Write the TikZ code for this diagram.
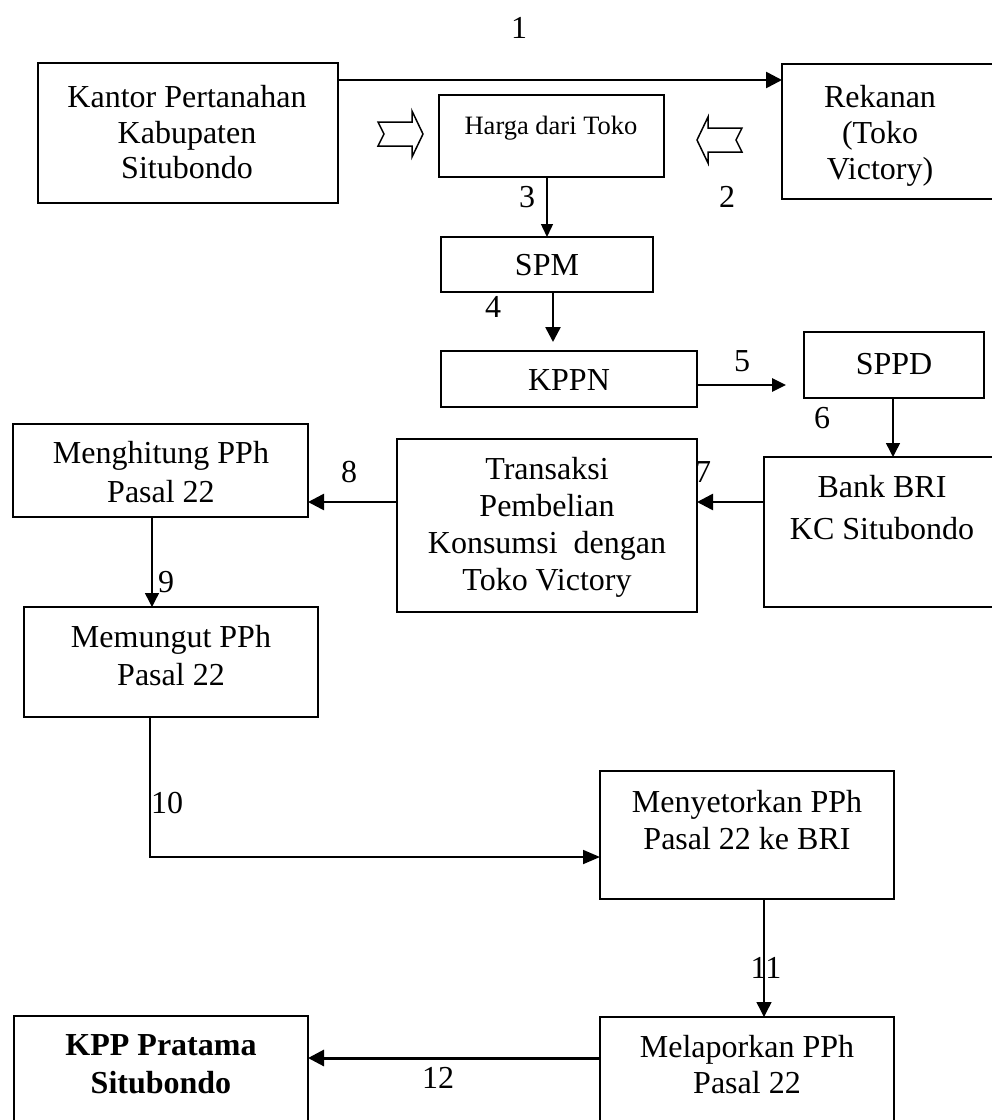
\documentclass[tikz,border=0pt]{standalone}
\usepackage{fontspec}
\setmainfont{Liberation Serif}
\usetikzlibrary{arrows.meta}
\begin{document}
\begin{tikzpicture}[x=1pt,y=-1pt,
  box/.style={draw,line width=1.6pt,inner sep=0pt,outer sep=0pt,anchor=north west},
  txt/.style={font=\fontsize{32}{37}\selectfont,align=center,inner sep=0pt},
  lbl/.style={font=\fontsize{32}{37}\selectfont,inner sep=0pt},
  thinarrow/.style={line width=1.4pt,-{Triangle[length=14pt,width=14pt]}},
  thickarrow/.style={line width=2.6pt,-{Triangle[length=16pt,width=16pt]}},
  blockarrow/.style={draw,line width=1.5pt,line join=miter,fill=white}]
\useasboundingbox (0,0) rectangle (992,1120);

% boxes
\node[box,minimum width=300pt,minimum height=140pt] (kantor) at (38,63) {};
\node[box,minimum width=225pt,minimum height=82pt]  (harga)  at (439,95) {};
\node[box,minimum width=240pt,minimum height=135pt] (rek)    at (782,64) {};
\node[box,minimum width=212pt,minimum height=55pt]  (spm)    at (441,237) {};
\node[box,minimum width=256pt,minimum height=56pt]  (kppn)   at (441,351) {};
\node[box,minimum width=180pt,minimum height=66pt]  (sppd)   at (804,332) {};
\node[box,minimum width=295pt,minimum height=93pt]  (mengh)  at (13,424) {};
\node[box,minimum width=300pt,minimum height=173pt] (trans)  at (397,439) {};
\node[box,minimum width=260pt,minimum height=150pt] (bank)   at (764,457) {};
\node[box,minimum width=294pt,minimum height=110pt] (memu)   at (24,607) {};
\node[box,minimum width=294pt,minimum height=128pt] (menyet) at (600,771) {};
\node[box,minimum width=294pt,minimum height=130pt] (melap)  at (600,1017) {};
\node[box,minimum width=294pt,minimum height=130pt] (kpp)    at (14,1016) {};

% texts
\node[txt,font=\fontsize{32}{35.5}\selectfont] (kantor-t) at (187,132.5) {Kantor Pertanahan\\Kabupaten\\Situbondo};
\node[txt,font=\fontsize{26.5}{30}\selectfont] (harga-t) at (551,128) {Harga dari Toko};
\node[txt,font=\fontsize{32}{36}\selectfont] (rek-t) at (880,136) {Rekanan\\(Toko\\Victory)};
\node[txt] (spm-t) at (547,265) {SPM};
\node[txt] (kppn-t) at (569,380) {KPPN};
\node[txt] (sppd-t) at (894,364) {SPPD};
\node[txt,font=\fontsize{32}{39}\selectfont] (mengh-t) at (161,472.5) {Menghitung PPh\\Pasal 22};
\node[txt] (trans-t) at (547,527) {Transaksi\\Pembelian\\Konsumsi\ \ dengan\\Toko Victory};
\node[txt,font=\fontsize{32}{42}\selectfont] (bank-t) at (882,508) {Bank BRI\\KC Situbondo};
\node[txt,font=\fontsize{32}{38}\selectfont] (memu-t) at (171,656) {Memungut PPh\\Pasal 22};
\node[txt] (menyet-t) at (747,820.5) {Menyetorkan PPh\\Pasal 22 ke BRI};
\node[txt,font=\fontsize{32}{36}\selectfont] (melap-t) at (747,1065) {Melaporkan PPh\\Pasal 22};
\node[txt,font=\fontsize{32}{38}\bfseries\selectfont] (kpp-t) at (161,1064) {KPP Pratama\\Situbondo};

% block arrows
\draw[blockarrow] (378,122) -- (412,122) -- (412,111) -- (423,134) -- (412,157) -- (412,146) -- (378,146) -- (384,134) -- cycle;
\draw[blockarrow] (697,140) -- (708,117) -- (708,128) -- (742,128) -- (736,140) -- (742,152) -- (708,152) -- (708,163) -- cycle;

% connector coordinates
\coordinate (c1) at (0,80);
\coordinate (c3) at (547,0);
\coordinate (c4) at (553,0);
\coordinate (c5) at (0,385);
\coordinate (c6) at (893,0);
\coordinate (c78) at (0,502);
\coordinate (c9) at (152,0);
\coordinate (c10) at (150,857);
\coordinate (c11) at (764,0);
\coordinate (c12) at (0,1058);

% connectors
\draw[thickarrow] (kantor.east |- c1) -- (rek.west |- c1);
\draw[thinarrow,-{Triangle[length=13pt,width=12pt]}] (harga.south -| c3) -- (spm.north -| c3);
\draw[thickarrow,-{Triangle[length=15pt,width=15pt]},shorten >=9pt] (spm.south -| c4) -- (kppn.north -| c4);
\draw[thickarrow,-{Triangle[length=14pt,width=13pt]},shorten >=18pt] (kppn.east |- c5) -- (sppd.west |- c5);
\draw[thinarrow] (sppd.south -| c6) -- (bank.north -| c6);
\draw[thickarrow] (bank.west |- c78) -- (trans.east |- c78);
\draw[thickarrow] (trans.west |- c78) -- (mengh.east |- c78);
\draw[thinarrow] (mengh.south -| c9) -- (memu.north -| c9);
\draw[line width=1.8pt,-{Triangle[length=17pt,width=14pt]}] (memu.south -| c10) |- (menyet.west |- c10);
\draw[thinarrow,-{Triangle[length=15pt,width=15pt]}] (menyet.south -| c11) -- (melap.north -| c11);
\draw[thickarrow,line width=3pt] (melap.west |- c12) -- (kpp.east |- c12);

% labels
\node[lbl] (l1) at (519,28) {1};
\node[lbl] (l2) at (727,197) {2};
\node[lbl] (l3) at (527,197) {3};
\node[lbl] (l4) at (493,307) {4};
\node[lbl] (l5) at (742,361) {5};
\node[lbl] (l6) at (822,418) {6};
\node[lbl] (l7) at (703,472) {7};
\node[lbl] (l8) at (349,472) {8};
\node[lbl] (l9) at (166,582) {9};
\node[lbl] (l10) at (167,803) {10};
\node[lbl] (l11) at (766,968) {11};
\node[lbl] (l12) at (438,1078) {12};
\end{tikzpicture}
\end{document}
